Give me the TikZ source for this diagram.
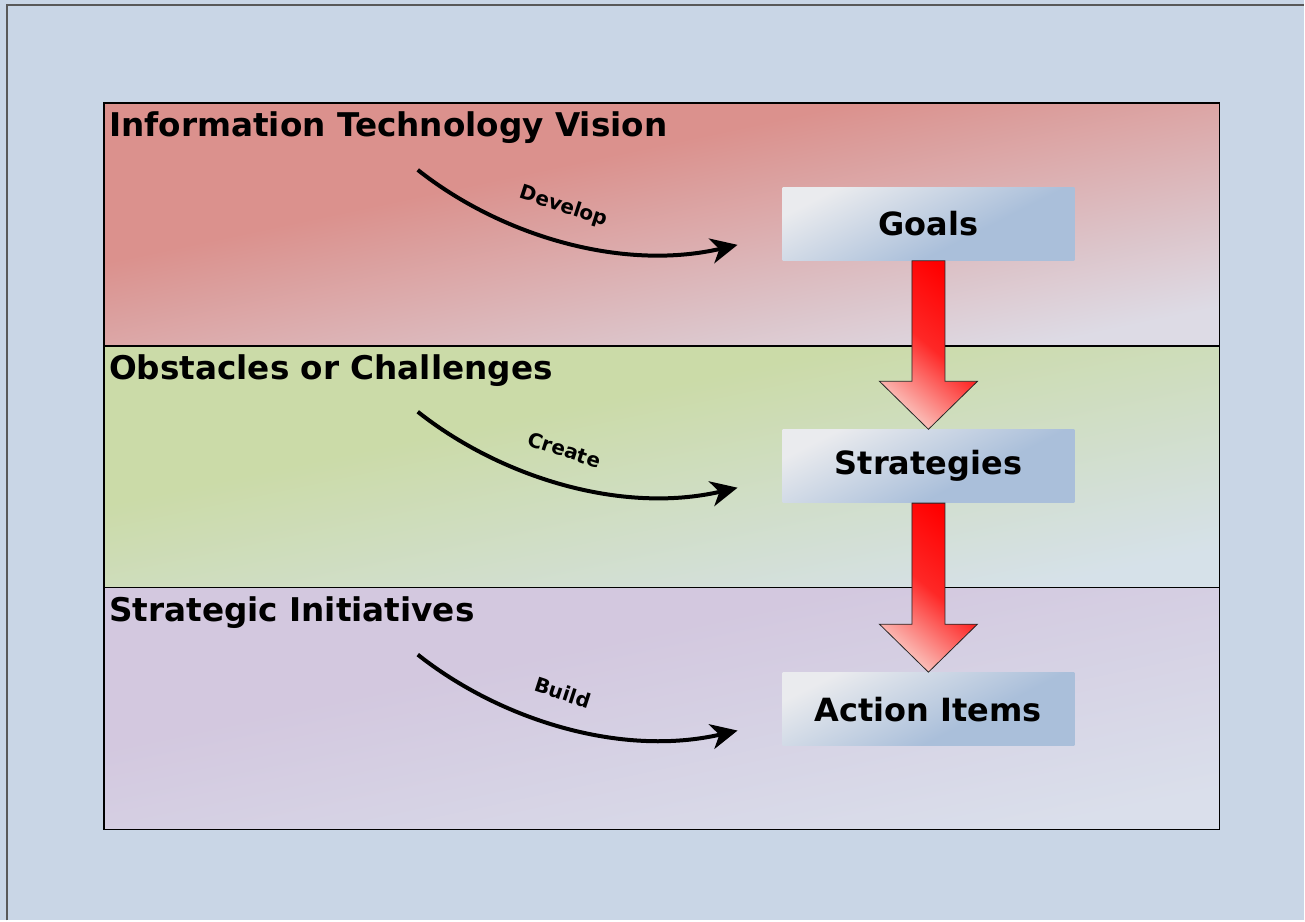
\documentclass[tikz,border=0pt]{standalone}
\usepackage{fontspec}
\setmainfont{DejaVu Sans}
\usetikzlibrary{arrows.meta,calc}
\definecolor{bgblue}{RGB}{201,214,230}
\definecolor{redtop}{RGB}{219,145,141}
\definecolor{redbot}{RGB}{221,219,229}
\definecolor{greentop}{RGB}{203,219,168}
\definecolor{greenbot}{RGB}{214,225,233}
\definecolor{purptop}{RGB}{211,200,223}
\definecolor{purpbot}{RGB}{218,223,235}
\definecolor{boxlight}{RGB}{234,235,238}
\definecolor{boxblue}{RGB}{170,191,218}
\definecolor{arrowpink}{RGB}{250,198,192}
\colorlet{fadetop}{white}
\colorlet{fadebot}{white}
\pgfdeclareverticalshading[fadetop,fadebot]{cornerfade}{100bp}{color(0bp)=(fadebot); color(25bp)=(fadebot); color(60bp)=(fadetop); color(100bp)=(fadetop)}
\begin{document}
\begin{tikzpicture}[x=0.75pt,y=-0.75pt,
  band/.style 2 args={draw=black, line width=1.1pt, /utils/exec={\colorlet{fadetop}{#1}\colorlet{fadebot}{#2}}, shade, shading=cornerfade, shading angle=12},
  bandtitle/.style={anchor=base west, inner sep=0pt, font=\bfseries\fontsize{24.5}{29}\selectfont},
  stagebox/.style={minimum width=219pt, minimum height=55pt, inner sep=0pt, /utils/exec={\colorlet{fadetop}{boxblue}\colorlet{fadebot}{boxlight}}, shade, shading=cornerfade, shading angle=207, font=\bfseries\fontsize{24}{29}\selectfont},
  flow/.style={line width=3pt, -{Stealth[length=20pt,width=19pt,inset=6pt]}},
  flowlabel/.style={font=\bfseries\fontsize{15}{18}\selectfont, rotate=-18, inner sep=0pt},
  downarrow/.style={draw=black!85, line width=0.6pt, top color=red, bottom color=arrowpink, middle color=red!80!arrowpink, shading angle=-40}]
\fill[bgblue] (0,0) rectangle (1305,921);
\draw[line width=1.2pt, black!65] (7,921) -- (7,5) -- (1305,5);
\path[band={redtop}{redbot}] (104,103) rectangle (1220,346);
\path[band={greentop}{greenbot}] (104,346) rectangle (1220,588);
\path[band={purptop}{purpbot}] (104,588) rectangle (1220,830);
\node[bandtitle] (vision) at (109,137) {Information Technology Vision};
\node[bandtitle] (obstacles) at (109,380) {Obstacles or Challenges};
\node[bandtitle] (initiatives) at (109,622) {Strategic Initiatives};
\node[stagebox] (goals) at (929,224) {Goals};
\node[stagebox] (strat) at (929,466.5) {Strategies};
\node[stagebox] (actions) at (929,709.5) {Action Items};
\draw[downarrow] ($(goals.south)+(-16.5,0)$) -- ($(strat.north)+(-16.5,-48)$) -- ($(strat.north)+(-49,-48)$) -- (strat.north) -- ($(strat.north)+(49,-48)$) -- ($(strat.north)+(16.5,-48)$) -- ($(goals.south)+(16.5,0)$) -- cycle;
\draw[downarrow] ($(strat.south)+(-16.5,0)$) -- ($(actions.north)+(-16.5,-48)$) -- ($(actions.north)+(-49,-48)$) -- (actions.north) -- ($(actions.north)+(49,-48)$) -- ($(actions.north)+(16.5,-48)$) -- ($(strat.south)+(16.5,0)$) -- cycle;
\coordinate (dev0) at (418,170);
\coordinate (dev1) at (738,245);
\coordinate (cre0) at (418,412);
\coordinate (cre1) at (738,488);
\coordinate (bld0) at (418,655);
\coordinate (bld1) at (738,731);
\draw[flow] (dev0) .. controls +(82,65) and +(-117,27) .. (dev1);
\draw[flow] (cre0) .. controls +(82,65) and +(-117,27) .. (cre1);
\draw[flow] (bld0) .. controls +(82,65) and +(-117,27) .. (bld1);
\node[flowlabel] (develop) at (564,207) {Develop};
\node[flowlabel] (create) at (565,450) {Create};
\node[flowlabel] (build) at (563,693) {Build};
\end{tikzpicture}
\end{document}
